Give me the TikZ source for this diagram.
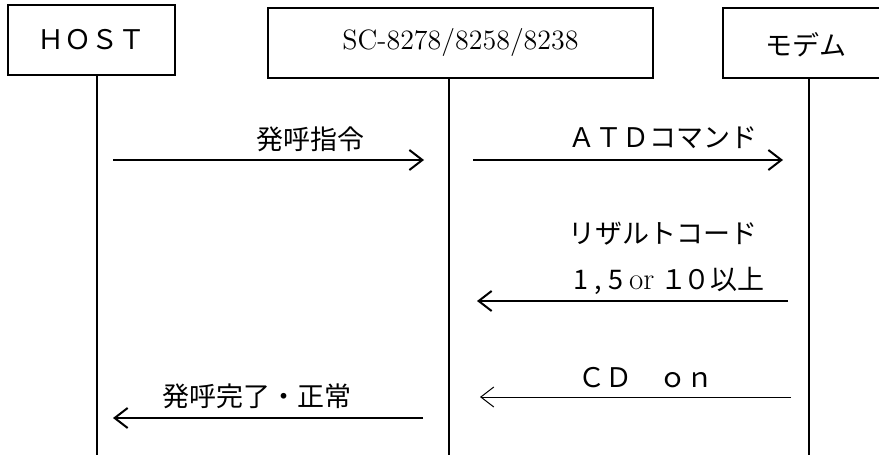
\documentclass[tikz,border=0pt]{standalone}
\usepackage{fontspec}
\newfontfamily\jp{Noto Sans CJK JP}
\usetikzlibrary{arrows.meta}
\begin{document}
\begin{tikzpicture}[x=0.5pt,y=-0.5pt,
	box/.style={draw,line width=1pt,inner sep=0pt,minimum height=35pt},
	lifeline/.style={line width=1pt},
	msg/.style={line width=1pt,-{Straight Barb[length=6.5pt,width=10pt,line width=1pt]}},
	thinmsg/.style={line width=0.5pt,-{Straight Barb[length=6.5pt,width=10pt,line width=0.5pt]}},
	lbl/.style={font=\jp\fontsize{13.5}{16}\selectfont,inner sep=0pt}]
	
	\clip (0,0) rectangle (879,455);
	
	% boxes
	\node[box,minimum width=83.5pt] (host) at (91.5,40) {\jp\fontsize{13.5}{16}\selectfont ＨＯＳＴ};
	\node[box,minimum width=192.5pt] (sc) at (460.5,42.5) {\fontsize{14}{17}\selectfont SC-8278/8258/8238};
	\node[box,minimum width=86pt] (modem) at (809,43) {};
	\node[lbl] (modemtxt) at (806,45) {モデム};
	
	% vertical lines
	\coordinate (hostend) at (97,455);
	\coordinate (scend) at (449,455);
	\coordinate (modemend) at (809,455);
	\draw[lifeline] (hostend |- host.south) -- (hostend);
	\draw[lifeline] (scend |- sc.south) -- (scend);
	\draw[lifeline] (modemend |- modem.south) -- (modemend);
	
	% message ends
	\coordinate (m1a) at (113,160);  \coordinate (m1b) at (424,160);
	\coordinate (m2a) at (473,160);  \coordinate (m2b) at (783,160);
	\coordinate (m3a) at (788,301);  \coordinate (m3b) at (477,301);
	\coordinate (m4a) at (791,397);  \coordinate (m4b) at (480,397);
	\coordinate (m5a) at (423,418);  \coordinate (m5b) at (113,418);
	
	% messages
	\draw[msg] (m1a) -- (m1b);
	\draw[msg] (m2a) -- (m2b);
	\draw[msg] (m3a) -- (m3b);
	\draw[thinmsg] (m4a) -- (m4b);
	\draw[msg] (m5a) -- (m5b);
	
	% labels
	\node[lbl] (call) at (310,139) {発呼指令};
	\node[lbl] (atd) at (663,138) {ＡＴＤコマンド};
	\node[lbl] (result) at (663,234) {リザルトコード};
	\node[lbl] (codes) at (669,281) {1\hspace{3pt},\hspace{3pt}5 {\rmfamily\fontsize{15.5}{18}\selectfont or} １\hspace{-2pt}０以上};
	\node[lbl] (cdon) at (646,378) {ＣＤ　ｏｎ};
	\node[lbl] (done) at (257,396) {発呼完了・正常};
	
\end{tikzpicture}
\end{document}
